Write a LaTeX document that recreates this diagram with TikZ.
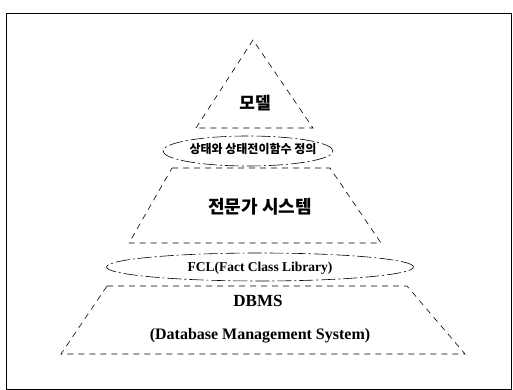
\documentclass[tikz,border=0pt]{standalone}
\usepackage{fontspec}
\setmainfont{Liberation Serif}
\newfontfamily\kr{Noto Sans CJK KR}
\usetikzlibrary{shapes.geometric}
\tikzset{
  pyr/.style={line width=0.6pt, dash pattern=on 6pt off 5pt},
  ring/.style={draw, ellipse, line width=0.6pt, dash pattern=on 14pt off 3pt on 2pt off 3pt, inner sep=0pt},
  krtext/.style={font=\kr\bfseries},
  entext/.style={font=\bfseries}
}
\begin{document}
\begin{tikzpicture}[x=1pt,y=-1pt]
\useasboundingbox (0,0) rectangle (513,390);
\draw[line width=0.8pt] (6,13) rectangle (511,389);
% pyramid corners
\coordinate (apex) at (253,40);
\coordinate (aL) at (196,128); \coordinate (aR) at (313,128);
\coordinate (bTL) at (172,168); \coordinate (bTR) at (330,168);
\coordinate (bBL) at (129,243); \coordinate (bBR) at (381,243);
\coordinate (cTL) at (107,286); \coordinate (cTR) at (407,286);
\coordinate (cBL) at (61,354); \coordinate (cBR) at (465,354);
\draw[pyr] (aL) -- (apex) -- (aR) -- cycle;
\draw[pyr] (bTL) -- (bTR) -- (bBR) -- (bBL) -- cycle;
\draw[pyr] (cTL) -- (cTR) -- (cBR) -- (cBL) -- cycle;
% ellipses
\node[ring, minimum width=170pt, minimum height=30pt] (e1) at (248,151) {};
\node[ring, minimum width=307pt, minimum height=28pt] (e2) at (260,267) {};
% texts
\node[krtext, font=\kr\bfseries\fontsize{17}{17}\selectfont] (m) at (255,103) {모델};
\node[krtext, font=\kr\bfseries\fontsize{12}{12}\selectfont] (s) at (253,149) {상태와 상태전이함수 정의};
\node[krtext, font=\kr\bfseries\fontsize{18}{18}\selectfont] (x) at (260,207) {전문가 시스템};
\node[entext, font=\bfseries\fontsize{13.5}{13.5}\selectfont] (f) at (260,268) {FCL(Fact Class Library)};
\node[entext, font=\bfseries\fontsize{17}{17}\selectfont] (d) at (258,301) {DBMS};
\node[entext, font=\bfseries\fontsize{16}{16}\selectfont] (db) at (260,336) {(Database Management System)};
\end{tikzpicture}
\end{document}
